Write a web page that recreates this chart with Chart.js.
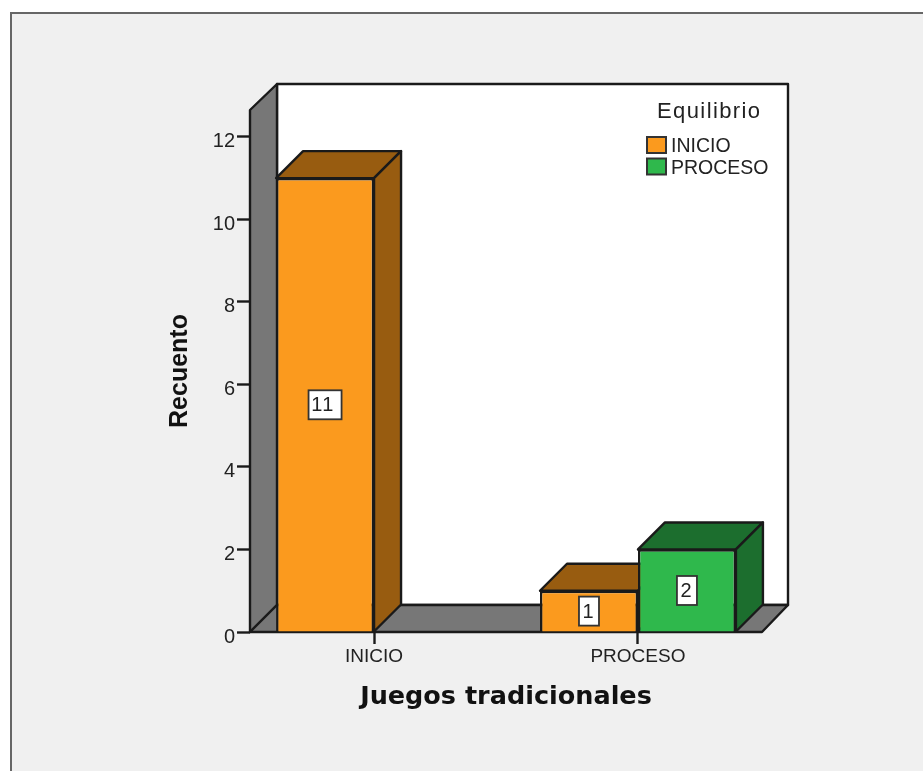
<!DOCTYPE html>
<html>
<head>
<meta charset="utf-8">
<title>Juegos tradicionales</title>
<script src="https://cdn.jsdelivr.net/npm/chart.js@4/dist/chart.umd.min.js"></script>
<style>
  html, body { margin: 0; padding: 0; background: #fff; }
  canvas { display: block; }
</style>
</head>
<body>
<canvas id="chart" width="923" height="771"></canvas>
<script>
const categories = ['INICIO', 'PROCESO'];
const seriesNames = ['INICIO', 'PROCESO'];
const inicioCounts = [11, 1];
const procesoCounts = [null, 2];
const yTicks = [0, 2, 4, 6, 8, 10, 12];

const legendTitle = 'Equilibrio';
const frontColors = ['#fb9a1e', '#2fb84c'];
const sideColors = ['#985c10', '#1c6e2e'];
const wallColor = '#777777';
const lineColor = '#1a1a1a';
const textColor = '#222222';
const fontFamily = '"Liberation Sans", Arial, sans-serif';

// how far the walls and bar sides recede, in px
const depth = 27;

const points = values => values.map((v, i) => ({x: i + 1, y: v}));

function face(ctx, corners, fill) {
  ctx.beginPath();
  corners.forEach(([x, y], i) => i ? ctx.lineTo(x, y) : ctx.moveTo(x, y));
  ctx.closePath();
  ctx.fillStyle = fill;
  ctx.fill();
  ctx.stroke();
}

// grey page with the dark frame on its top and left edges
const pagePlugin = {
  id: 'pageBackground',
  beforeDraw: chart => {
    const {ctx, width, height} = chart;
    ctx.save();
    ctx.fillStyle = '#ffffff';
    ctx.fillRect(0, 0, width, height);
    ctx.fillStyle = '#f0f0f0';
    ctx.fillRect(11, 13, width, height);
    ctx.fillStyle = '#666666';
    ctx.fillRect(10, 12, width, 2);
    ctx.fillRect(10, 12, 2, height);
    ctx.restore();
  }
};

// back wall, side wall and floor, then the top and side of every bar
const boxPlugin = {
  id: 'box3d',
  beforeDatasetsDraw: chart => {
    const {ctx, chartArea: {left, right, top, bottom}} = chart;
    ctx.save();
    ctx.lineJoin = 'round';
    ctx.strokeStyle = lineColor;
    ctx.lineWidth = 2.4;
    face(ctx, [[left + depth, top - depth + 1], [right + depth - 1, top - depth + 1],
      [right + depth - 1, bottom - depth], [left + depth, bottom - depth]], '#ffffff');
    face(ctx, [[left, top], [left + depth, top - depth + 1],
      [left + depth, bottom - depth], [left, bottom]], wallColor);
    face(ctx, [[left, bottom], [left + depth, bottom - depth],
      [right + depth - 1, bottom - depth], [right, bottom]], wallColor);

    chart.data.datasets.forEach((dataset, d) => {
      chart.getDatasetMeta(d).data.forEach((bar, i) => {
        if (dataset.data[i].y === null) return;
        const x0 = bar.x - bar.width / 2;
        const x1 = bar.x + bar.width / 2;
        face(ctx, [[x0, bar.y], [x0 + depth, bar.y - depth], [x1 + depth, bar.y - depth], [x1, bar.y]], sideColors[d]);
        face(ctx, [[x1, bar.y], [x1 + depth, bar.y - depth], [x1 + depth, bar.base - depth], [x1, bar.base]], sideColors[d]);
      });
    });
    ctx.restore();
  }
};

// white value boxes in the middle of each bar
const valueBoxPlugin = {
  id: 'valueBoxes',
  afterDatasetsDraw: chart => {
    const {ctx} = chart;
    ctx.save();
    ctx.font = '20px ' + fontFamily;
    ctx.textAlign = 'center';
    ctx.textBaseline = 'middle';
    chart.data.datasets.forEach((dataset, d) => {
      chart.getDatasetMeta(d).data.forEach((bar, i) => {
        const value = dataset.data[i].y;
        if (value === null) return;
        const wide = String(value).length > 1;
        const w = wide ? 33 : 20;
        const h = 29;
        const cy = (bar.y + bar.base) / 2;
        ctx.fillStyle = '#ffffff';
        ctx.fillRect(bar.x - w / 2, cy - h / 2, w, h);
        ctx.strokeStyle = '#333333';
        ctx.lineWidth = 1.8;
        ctx.strokeRect(bar.x - w / 2, cy - h / 2, w, h);
        ctx.fillStyle = textColor;
        ctx.letterSpacing = wide ? '1.5px' : '0px';
        ctx.fillText(String(value), bar.x - (wide ? 2 : 1), cy + 1);
        ctx.letterSpacing = '0px';
      });
    });
    ctx.restore();
  }
};

// legend sitting on the back wall
const legendPlugin = {
  id: 'wallLegend',
  afterDraw: chart => {
    const {ctx} = chart;
    ctx.save();
    ctx.fillStyle = textColor;
    ctx.textBaseline = 'middle';
    ctx.font = '22px ' + fontFamily;
    ctx.letterSpacing = '1.4px';
    ctx.fillText(legendTitle, 657, 112);
    ctx.letterSpacing = '0px';
    ctx.font = '19.5px ' + fontFamily;
    seriesNames.forEach((name, i) => {
      const y = 137 + i * 21.5;
      ctx.fillStyle = frontColors[i];
      ctx.strokeStyle = '#333333';
      ctx.lineWidth = 2;
      ctx.fillRect(647, y, 19, 16);
      ctx.strokeRect(647, y, 19, 16);
      ctx.fillStyle = textColor;
      ctx.fillText(name, 671, y + 10);
    });
    ctx.restore();
  }
};

new Chart(document.getElementById('chart'), {
  type: 'bar',
  data: {
    datasets: [
      {label: seriesNames[0], data: points(inicioCounts), backgroundColor: frontColors[0]},
      {label: seriesNames[1], data: points(procesoCounts), backgroundColor: frontColors[1]}
    ].map(ds => ({...ds, borderColor: lineColor, borderWidth: 2.4}))
  },
  options: {
    responsive: false,
    animation: false,
    categoryPercentage: 0.7424,
    barPercentage: 1,
    layout: {padding: {left: 165, right: 161, top: 110, bottom: 8}},
    plugins: {legend: {display: false}, tooltip: {enabled: false}},
    scales: {
      x: {
        type: 'linear',
        offset: false,
        min: 0.53,
        max: 2.47,
        afterBuildTicks: scale => { scale.ticks = categories.map((_, i) => ({value: i + 1})); },
        afterFit: scale => { scale.height = 131; },
        grid: {offset: false, drawOnChartArea: false, tickLength: 12, tickColor: lineColor, tickWidth: 2.4},
        border: {display: false},
        ticks: {
          autoSkip: false,
          maxRotation: 0,
          padding: 1,
          color: textColor,
          font: {family: fontFamily, size: 19},
          callback: v => categories[v - 1]
        },
        title: {
          display: true,
          text: 'Juegos tradicionales',
          color: '#111111',
          font: {family: '"DejaVu Sans"', size: 25.5, weight: 'bold'},
          padding: {top: 0, bottom: 50}
        }
      },
      y: {
        min: 0,
        max: 12.65,
        afterBuildTicks: scale => { scale.ticks = yTicks.map(v => ({value: v})); },
        afterFit: scale => { scale.width = 85; },
        grid: {drawOnChartArea: false, tickLength: 13, tickColor: lineColor, tickWidth: 2.4},
        border: {display: false},
        ticks: {
          padding: 2,
          labelOffset: 5,
          color: textColor,
          font: {family: fontFamily, size: 20}
        },
        title: {
          display: true,
          text: 'Recuento',
          color: '#111111',
          font: {family: fontFamily, size: 25, weight: 'bold'},
          padding: {top: 0, bottom: 0}
        }
      }
    }
  },
  plugins: [pagePlugin, boxPlugin, valueBoxPlugin, legendPlugin]
});
</script>
</body>
</html>
